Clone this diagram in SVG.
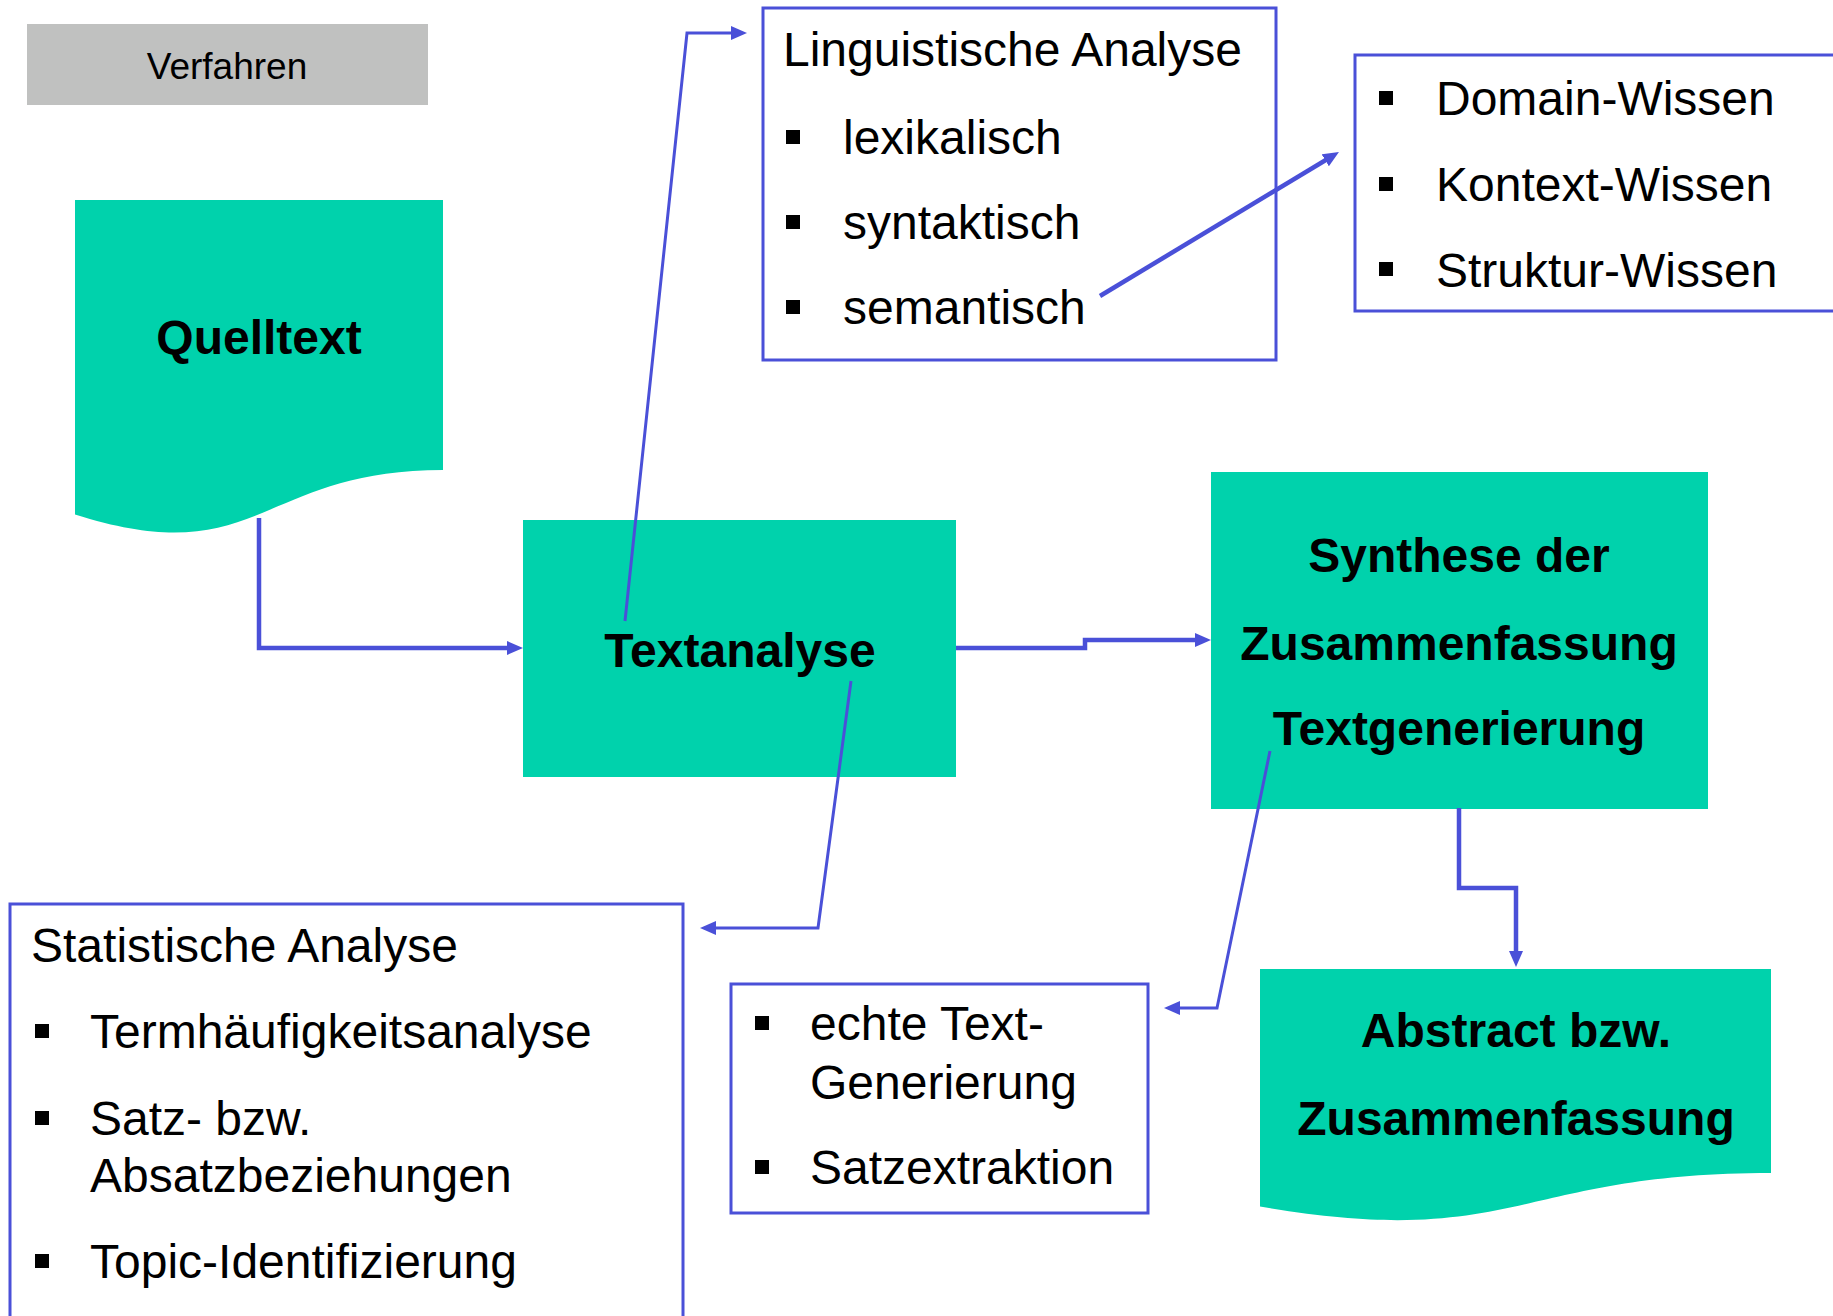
<svg xmlns="http://www.w3.org/2000/svg" width="1833" height="1316" viewBox="0 0 1833 1316">
<defs>
<style>
.green{fill:#00D2AC;}
.box{fill:#FFFFFF;stroke:#4A50D8;stroke-width:3;}
.reg{font-family:"Liberation Sans",Arial,sans-serif;font-size:48px;fill:#000;}
.bold{font-family:"Liberation Sans",Arial,sans-serif;font-size:48px;font-weight:bold;fill:#000;text-anchor:middle;}
.bul{fill:#000;}
.conn{fill:none;stroke:#4A50D8;stroke-linejoin:miter;marker-end:url(#ah);}
.thin{stroke-width:3;}
.thick{stroke-width:4.5;}
</style>
<marker id="ah" viewBox="0 0 16 14" refX="6" refY="7" markerWidth="16" markerHeight="14" markerUnits="userSpaceOnUse" orient="auto">
<path d="M0,0 L16,7 L0,14 Z" fill="#4A50D8"/>
</marker>
</defs>
<rect width="1833" height="1316" fill="#FFFFFF"/>

<g id="verfahren">
<rect x="27" y="24" width="401" height="81" fill="#C0C1C0"/>
<text x="227" y="79" font-family="Liberation Sans, Arial, sans-serif" font-size="37" text-anchor="middle" fill="#000">Verfahren</text>
</g>

<g id="quelltext">
<path class="green" d="M75,200 H443 V470 C259,470 259,573 75,514.5 Z"/>
<text class="bold" x="259" y="354">Quelltext</text>
</g>

<g id="textanalyse">
<rect class="green" x="523" y="520" width="433" height="257"/>
<text class="bold" x="740" y="667">Textanalyse</text>
</g>

<g id="synthese">
<rect class="green" x="1211" y="472" width="497" height="337"/>
<text class="bold" x="1459" y="572">Synthese der</text>
<text class="bold" x="1459" y="660">Zusammenfassung</text>
<text class="bold" x="1459" y="745">Textgenerierung</text>
</g>

<g id="abstract">
<path class="green" d="M1260,969 H1771 V1173 C1515.5,1173 1515.5,1250.7 1260,1206.6 Z"/>
<text class="bold" x="1516" y="1047">Abstract bzw.</text>
<text class="bold" x="1516" y="1135">Zusammenfassung</text>
</g>

<g id="linguistische">
<rect class="box" x="763" y="8" width="513" height="352"/>
<text class="reg" x="783" y="66">Linguistische Analyse</text>
<rect class="bul" x="786" y="130" width="14" height="14"/>
<text class="reg" x="843" y="154">lexikalisch</text>
<rect class="bul" x="786" y="215" width="14" height="14"/>
<text class="reg" x="843" y="239">syntaktisch</text>
<rect class="bul" x="786" y="300" width="14" height="14"/>
<text class="reg" x="843" y="324">semantisch</text>
</g>

<g id="wissen">
<rect class="box" x="1355" y="55" width="520" height="256"/>
<rect class="bul" x="1379" y="91" width="14" height="14"/>
<text class="reg" x="1436" y="115">Domain-Wissen</text>
<rect class="bul" x="1379" y="177" width="14" height="14"/>
<text class="reg" x="1436" y="201">Kontext-Wissen</text>
<rect class="bul" x="1379" y="262" width="14" height="14"/>
<text class="reg" x="1436" y="287">Struktur-Wissen</text>
</g>

<g id="statistische">
<rect class="box" x="10" y="904" width="673" height="430"/>
<text class="reg" x="31" y="962">Statistische Analyse</text>
<rect class="bul" x="35" y="1024" width="14" height="14"/>
<text class="reg" x="90" y="1048">Termhäufigkeitsanalyse</text>
<rect class="bul" x="35" y="1111" width="14" height="14"/>
<text class="reg" x="90" y="1135">Satz- bzw.</text>
<text class="reg" x="90" y="1192">Absatzbeziehungen</text>
<rect class="bul" x="35" y="1254" width="14" height="14"/>
<text class="reg" x="90" y="1278">Topic-Identifizierung</text>
</g>

<g id="generierung">
<rect class="box" x="731" y="984" width="417" height="229"/>
<rect class="bul" x="755" y="1016" width="14" height="14"/>
<text class="reg" x="810" y="1040">echte Text-</text>
<text class="reg" x="810" y="1099">Generierung</text>
<rect class="bul" x="755" y="1160" width="14" height="14"/>
<text class="reg" x="810" y="1184">Satzextraktion</text>
</g>

<g id="connectors">
<path class="conn thick" d="M259,518 V648 H513"/>
<path class="conn thick" d="M956,648 H1085 V640 H1201"/>
<path class="conn thin" d="M625,621 L687,33 H737"/>
<path class="conn thick" d="M1100,296 L1330.4,157.2"/>
<path class="conn thin" d="M851,681 L818,928 H710"/>
<path class="conn thin" d="M1270,751 L1217,1008 H1174"/>
<path class="conn thick" d="M1459,808 V888 H1516 V957"/>
</g>
</svg>
